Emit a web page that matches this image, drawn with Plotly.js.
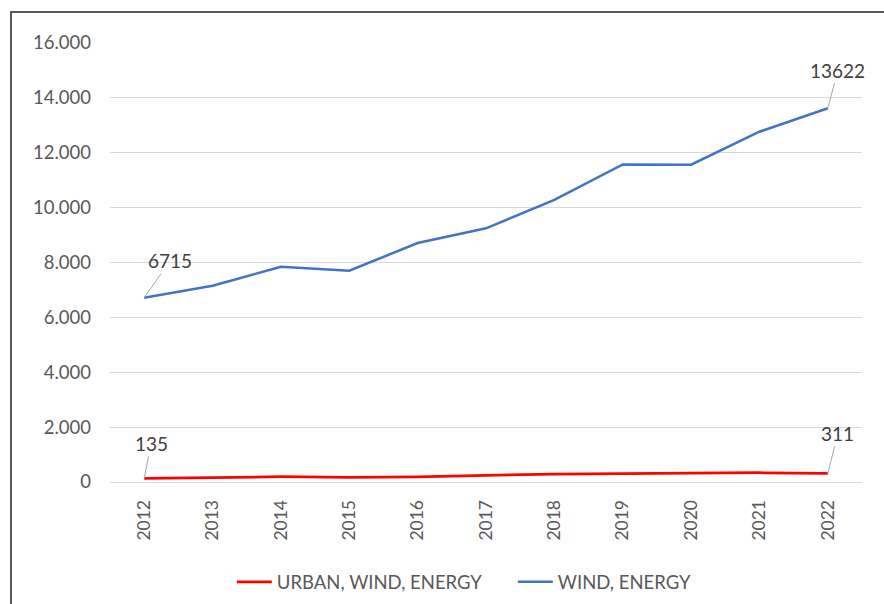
<!DOCTYPE html>
<html>
<head>
<meta charset="utf-8">
<script src="https://cdn.plot.ly/plotly-3.0.1.min.js"></script>
<style>
html,body{margin:0;padding:0;background:#fff;}
#wrap{position:relative;width:884px;height:604px;overflow:hidden;}
#chart{position:absolute;left:0;top:0;width:884px;height:604px;}
#frame{position:absolute;left:10px;top:11px;width:900px;height:700px;border-left:2px solid #595959;border-top:2px solid #595959;pointer-events:none;}
</style>
</head>
<body>
<div id="wrap"><div id="chart"></div><div id="frame"></div></div>
<script>
const years = ['2012','2013','2014','2015','2016','2017','2018','2019','2020','2021','2022'];
const urbanWindEnergy = [135, 172, 192, 172, 183, 243, 291, 303, 314, 338, 311];
const windEnergy = [6715, 7150, 7846, 7700, 8710, 9245, 10280, 11575, 11565, 12766, 13622];
const seriesNames = ['URBAN, WIND, ENERGY', 'WIND, ENERGY'];
const yTicks = [0, 2000, 4000, 6000, 8000, 10000, 12000, 14000, 16000];

const font = "Lato, 'Open Sans', sans-serif";
const traces = [
  {x: years, y: urbanWindEnergy, name: seriesNames[0], type: 'scatter', mode: 'lines',
   line: {color: '#FF0000', width: 2.75}},
  {x: years, y: windEnergy, name: seriesNames[1], type: 'scatter', mode: 'lines',
   line: {color: '#4472C4', width: 2.5}}
];

function lbl(series, idx, ax, ay) {
  return {x: idx, y: series[idx], xref: 'x', yref: 'y', text: String(series[idx]),
    showarrow: true, arrowhead: 0, arrowwidth: 1, arrowcolor: '#a6a6a6', ax: ax, ay: ay,
    standoff: 0, startstandoff: 0,
    font: {family: font, size: 19, color: '#404040'}};
}
const last = years.length - 1;
const layout = {
  width: 884, height: 604,
  margin: {l: 110, r: 22, t: 43, b: 122},
  paper_bgcolor: '#fff', plot_bgcolor: '#fff',
  separators: ',.',
  showlegend: true,
  legend: {orientation: 'h', x: 0.162, xanchor: 'left', y: 0.036, yanchor: 'middle',
    xref: 'paper', yref: 'container', font: {family: font, size: 18.5, color: '#595959'}, itemwidth: 35,
    entrywidth: 231, entrywidthmode: 'pixels', traceorder: 'normal'},
  xaxis: {type: 'category', categoryorder: 'array', categoryarray: years,
    range: [-0.5, 10.5], tickangle: -90, showgrid: false, showline: true,
    linecolor: '#d9d9d9', linewidth: 1, ticks: '', zeroline: false,
    tickfont: {family: font, size: 17.5, color: '#595959'}, ticklabelstandoff: 10},
  yaxis: {range: [0, 16000], tickvals: yTicks, tickformat: ',d', showgrid: true,
    gridcolor: '#d9d9d9', gridwidth: 1, zeroline: false, showline: false, ticks: '',
    tickfont: {family: font, size: 18.5, color: '#595959'}, ticklabelstandoff: 18},
  annotations: [
    lbl(windEnergy, 0, 26, -37),
    lbl(windEnergy, last, 10, -38),
    lbl(urbanWindEnergy, 0, 7, -35),
    lbl(urbanWindEnergy, last, 10, -40)
  ]
};
Plotly.newPlot('chart', traces, layout, {displayModeBar: false, staticPlot: true});
</script>
</body>
</html>
